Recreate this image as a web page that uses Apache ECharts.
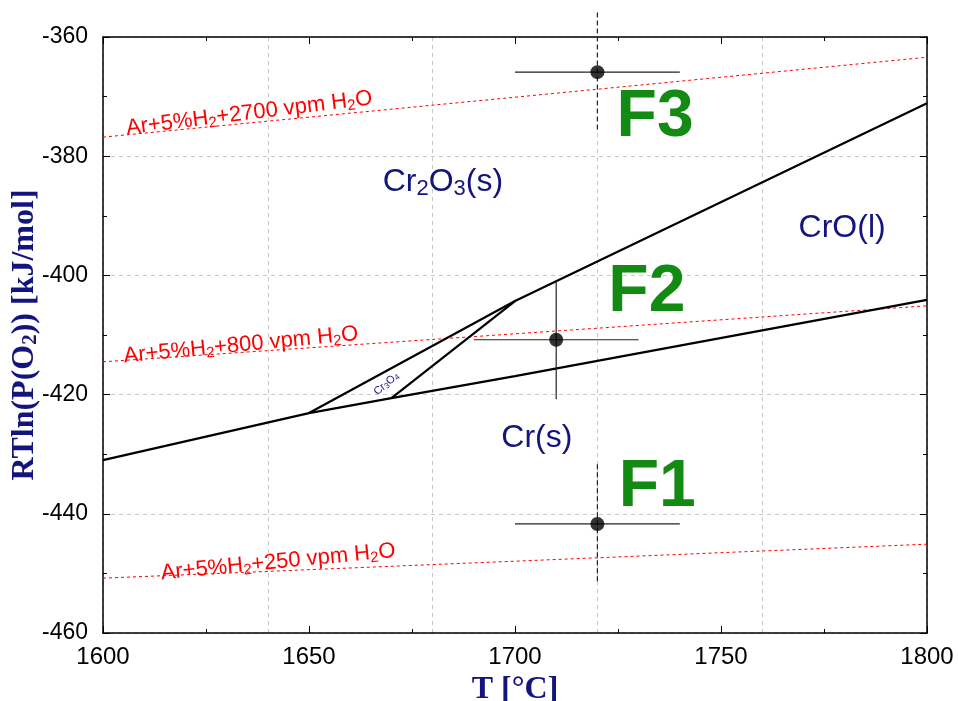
<!DOCTYPE html>
<html><head><meta charset="utf-8">
<script src="https://cdn.jsdelivr.net/npm/echarts@6/dist/echarts.min.js"></script>
<style>html,body{margin:0;padding:0;background:#fff}#c{width:958px;height:701px}</style>
</head><body><div id="c"></div>
<script>
// axis ticks
const xTickInterval = 50;
const xGridInterval = 40;
const yTickInterval = 20;
const xRange = [1600, 1800];
const yRange = [-460, -360];

// phase boundaries [T (°C), RTln(PO2) (kJ/mol)]
const crLowerBoundary = [[1600,-431.0],[1650,-423.1],[1670,-420.6],[1700,-416.9],[1800,-404.1]];
const cr2o3Boundary = [[1650,-423.1],[1700,-404.3],[1800,-371.1]];
const cr3o4Boundary = [[1670,-420.6],[1700,-404.3]];

// gas atmospheres
const gas2700 = [[1600,-376.8],[1800,-363.4]];
const gas800 = [[1600,-414.5],[1800,-405.1]];
const gas250 = [[1600,-450.8],[1800,-445.1]];
const gasLabels = ['Ar+5%H{s|2}+2700 vpm H{s|2}O','Ar+5%H{s|2}+800 vpm H{s|2}O','Ar+5%H{s|2}+250 vpm H{s|2}O'];
const gasLabelT = [1635.5,1633.5,1642.5];
const gasLabelP = [-372.8,-411.7,-448.1];

// samples
const sampleNames = ['F1','F2','F3'];
const sampleT = [1720,1710,1720];
const sampleP = [-441.7,-410.8,-365.9];
const sampleErrT = [20,20,20];
const sampleErrP = [10,10,10];
const sampleLabelT = [1734.5,1732,1734];
const sampleLabelP = [-435.7,-403.0,-373.6];

// phase field labels
const phaseLabels = ['Cr{s|2}O{s|3}(s)','CrO(l)','Cr(s)'];
const phaseT = [1682.5,1779.4,1705.3];
const phaseP = [-384.3,-392.0,-427.3];
const smallLabel = ['Cr{t|3}O{t|4}'];
const smallT = [1668.8];
const smallP = [-418.2];

const navy = '#14147e';
const green = '#138a13';
const gridGray = '#c8c8c8';

const chart = echarts.init(document.getElementById('c'), null, {renderer:'canvas'});

const axisBase = {
  type:'value',
  axisLine:{show:true, onZero:false, lineStyle:{color:'#000', width:1.5}},
  axisTick:{show:true, inside:true, length:7, lineStyle:{color:'#000', width:1}},
  minorTick:{show:true, splitNumber:2, length:4, lineStyle:{color:'#000', width:1}},
  splitLine:{show:false}
};

function lineSeries(data, color, width, dash){
  return {type:'line', data:data, xAxisIndex:0, yAxisIndex:0, showSymbol:false, symbol:'none',
    lineStyle:{color:color, width:width, type:dash||'solid'}, silent:true, z:3, animation:false};
}

const gasData = gasLabels.map((t,i)=>[gasLabelT[i], gasLabelP[i], t]);
const gasAngles = [7, 5.5, 5.5];
const sampleData = sampleT.map((t,i)=>[t, sampleP[i], sampleErrT[i], sampleErrP[i]]);

chart.setOption({
  animation:false,
  backgroundColor:'#fff',
  grid:{left:103, right:31, top:37, bottom:68, containLabel:false, outerBoundsMode:'none'},
  xAxis:[
    Object.assign({}, axisBase, {min:xRange[0], max:xRange[1], interval:xTickInterval, position:'bottom',
      axisLabel:{color:'#000', fontSize:24, fontFamily:'Liberation Sans Narrow, Liberation Sans, Arial', margin:12,
        formatter:function(v){return String(v);}},
      name:'T [°C]', nameLocation:'middle', nameGap:28,
      nameTextStyle:{color:navy, fontSize:32, fontWeight:'bold', fontFamily:'Liberation Serif, Times New Roman, serif'}}),
    Object.assign({}, axisBase, {min:xRange[0], max:xRange[1], interval:xTickInterval, position:'top', axisLabel:{show:false}}),
    {type:'value', min:xRange[0], max:xRange[1], interval:xGridInterval, position:'bottom',
      axisLine:{show:false}, axisTick:{show:false}, axisLabel:{show:false},
      splitLine:{show:true, lineStyle:{color:gridGray, type:[4,4], width:1}}}
  ],
  yAxis:[
    Object.assign({}, axisBase, {min:yRange[0], max:yRange[1], interval:yTickInterval, position:'left',
      axisLabel:{color:'#000', fontSize:23, fontFamily:'Liberation Sans, Arial', margin:15,
        formatter:function(v){return String(v);}},
      splitLine:{show:true, lineStyle:{color:gridGray, type:[4,4], width:1}},
      name:'RTln(P(O{s|2})) [kJ/mol]', nameLocation:'middle', nameRotate:90, nameGap:62, nameMoveOverlap:false,
      nameTextStyle:{color:navy, fontSize:32, fontWeight:'bold', fontFamily:'Liberation Serif, Times New Roman, serif',
        rich:{s:{fontSize:21, fontWeight:'bold', color:navy, fontFamily:'Liberation Serif', padding:[12,0,0,0]}}}}),
    Object.assign({}, axisBase, {min:yRange[0], max:yRange[1], interval:yTickInterval, position:'right', axisLabel:{show:false}})
  ],
  series:[
    lineSeries(gas2700, '#ff0000', 1, [3,3]),
    lineSeries(gas800, '#ff0000', 1, [3,3]),
    lineSeries(gas250, '#ff0000', 1, [3,3]),
    lineSeries(crLowerBoundary, '#000', 2.2),
    lineSeries(cr2o3Boundary, '#000', 2.2),
    lineSeries(cr3o4Boundary, '#000', 2.2),
    {type:'custom', xAxisIndex:0, yAxisIndex:0, data:sampleData, z:5, clip:false, silent:true,
      renderItem:function(params, api){
        const t = api.value(0), p = api.value(1), et = api.value(2), ep = api.value(3);
        const l = api.coord([t-et, p]), r = api.coord([t+et, p]);
        const top = api.coord([t, p+ep]), bot = api.coord([t, p-ep]);
        const onGrid = (t - xRange[0]) % xGridInterval === 0;
        return {type:'group', children:[
          {type:'line', shape:{x1:l[0], y1:l[1], x2:r[0], y2:r[1]}, style:{stroke:'#222', lineWidth:1.2}},
          {type:'line', shape:{x1:top[0], y1:top[1], x2:bot[0], y2:bot[1]}, style:{stroke:'#222', lineWidth:1.2, lineDash: onGrid ? [5,3] : null}}
        ]};
      }},
    {type:'scatter', xAxisIndex:0, yAxisIndex:0, data:sampleT.map((t,i)=>[t, sampleP[i]]), symbol:'circle', symbolSize:14,
      itemStyle:{color:'#000'}, z:6, silent:true},
    {type:'custom', xAxisIndex:0, yAxisIndex:0, data:gasData, z:4, clip:false, silent:true,
      renderItem:function(params, api){
        const c = api.coord([api.value(0), api.value(1)]);
        return {type:'text', x:c[0], y:c[1], rotation:gasAngles[params.dataIndex]*Math.PI/180,
          style:{text:gasLabels[params.dataIndex], fill:'#ff0000', fontSize:22, fontFamily:'Liberation Sans, Arial',
            align:'center', verticalAlign:'middle',
            rich:{s:{fontSize:15, fill:'#ff0000', fontFamily:'Liberation Sans, Arial', padding:[10,0,0,0]}}}};
      }},
    {type:'custom', xAxisIndex:0, yAxisIndex:0, data:sampleNames.map((n,i)=>[sampleLabelT[i], sampleLabelP[i]]), z:4, clip:false, silent:true,
      renderItem:function(params, api){
        const c = api.coord([api.value(0), api.value(1)]);
        return {type:'text', x:c[0], y:c[1],
          style:{text:sampleNames[params.dataIndex], fill:green, fontSize:66, fontWeight:'bold', fontFamily:'Liberation Sans, Arial',
            align:'center', verticalAlign:'middle'}};
      }},
    {type:'custom', xAxisIndex:0, yAxisIndex:0, data:phaseLabels.map((n,i)=>[phaseT[i], phaseP[i]]), z:4, clip:false, silent:true,
      renderItem:function(params, api){
        const c = api.coord([api.value(0), api.value(1)]);
        return {type:'text', x:c[0], y:c[1],
          style:{text:phaseLabels[params.dataIndex], fill:navy, fontSize:32, fontFamily:'Liberation Sans, Arial',
            align:'center', verticalAlign:'middle',
            rich:{s:{fontSize:22, fill:navy, fontFamily:'Liberation Sans, Arial', padding:[14,0,0,0]}}}};
      }},
    {type:'custom', xAxisIndex:0, yAxisIndex:0, data:smallLabel.map((n,i)=>[smallT[i], smallP[i]]), z:4, clip:false, silent:true,
      renderItem:function(params, api){
        const c = api.coord([api.value(0), api.value(1)]);
        return {type:'text', x:c[0], y:c[1], rotation:40*Math.PI/180,
          style:{text:smallLabel[params.dataIndex], fill:navy, fontSize:11, fontFamily:'Liberation Sans, Arial',
            align:'center', verticalAlign:'middle',
            rich:{t:{fontSize:8, fill:navy, fontFamily:'Liberation Sans, Arial', padding:[4,0,0,0]}}}};
      }}
  ]
});
</script>
</body></html>
